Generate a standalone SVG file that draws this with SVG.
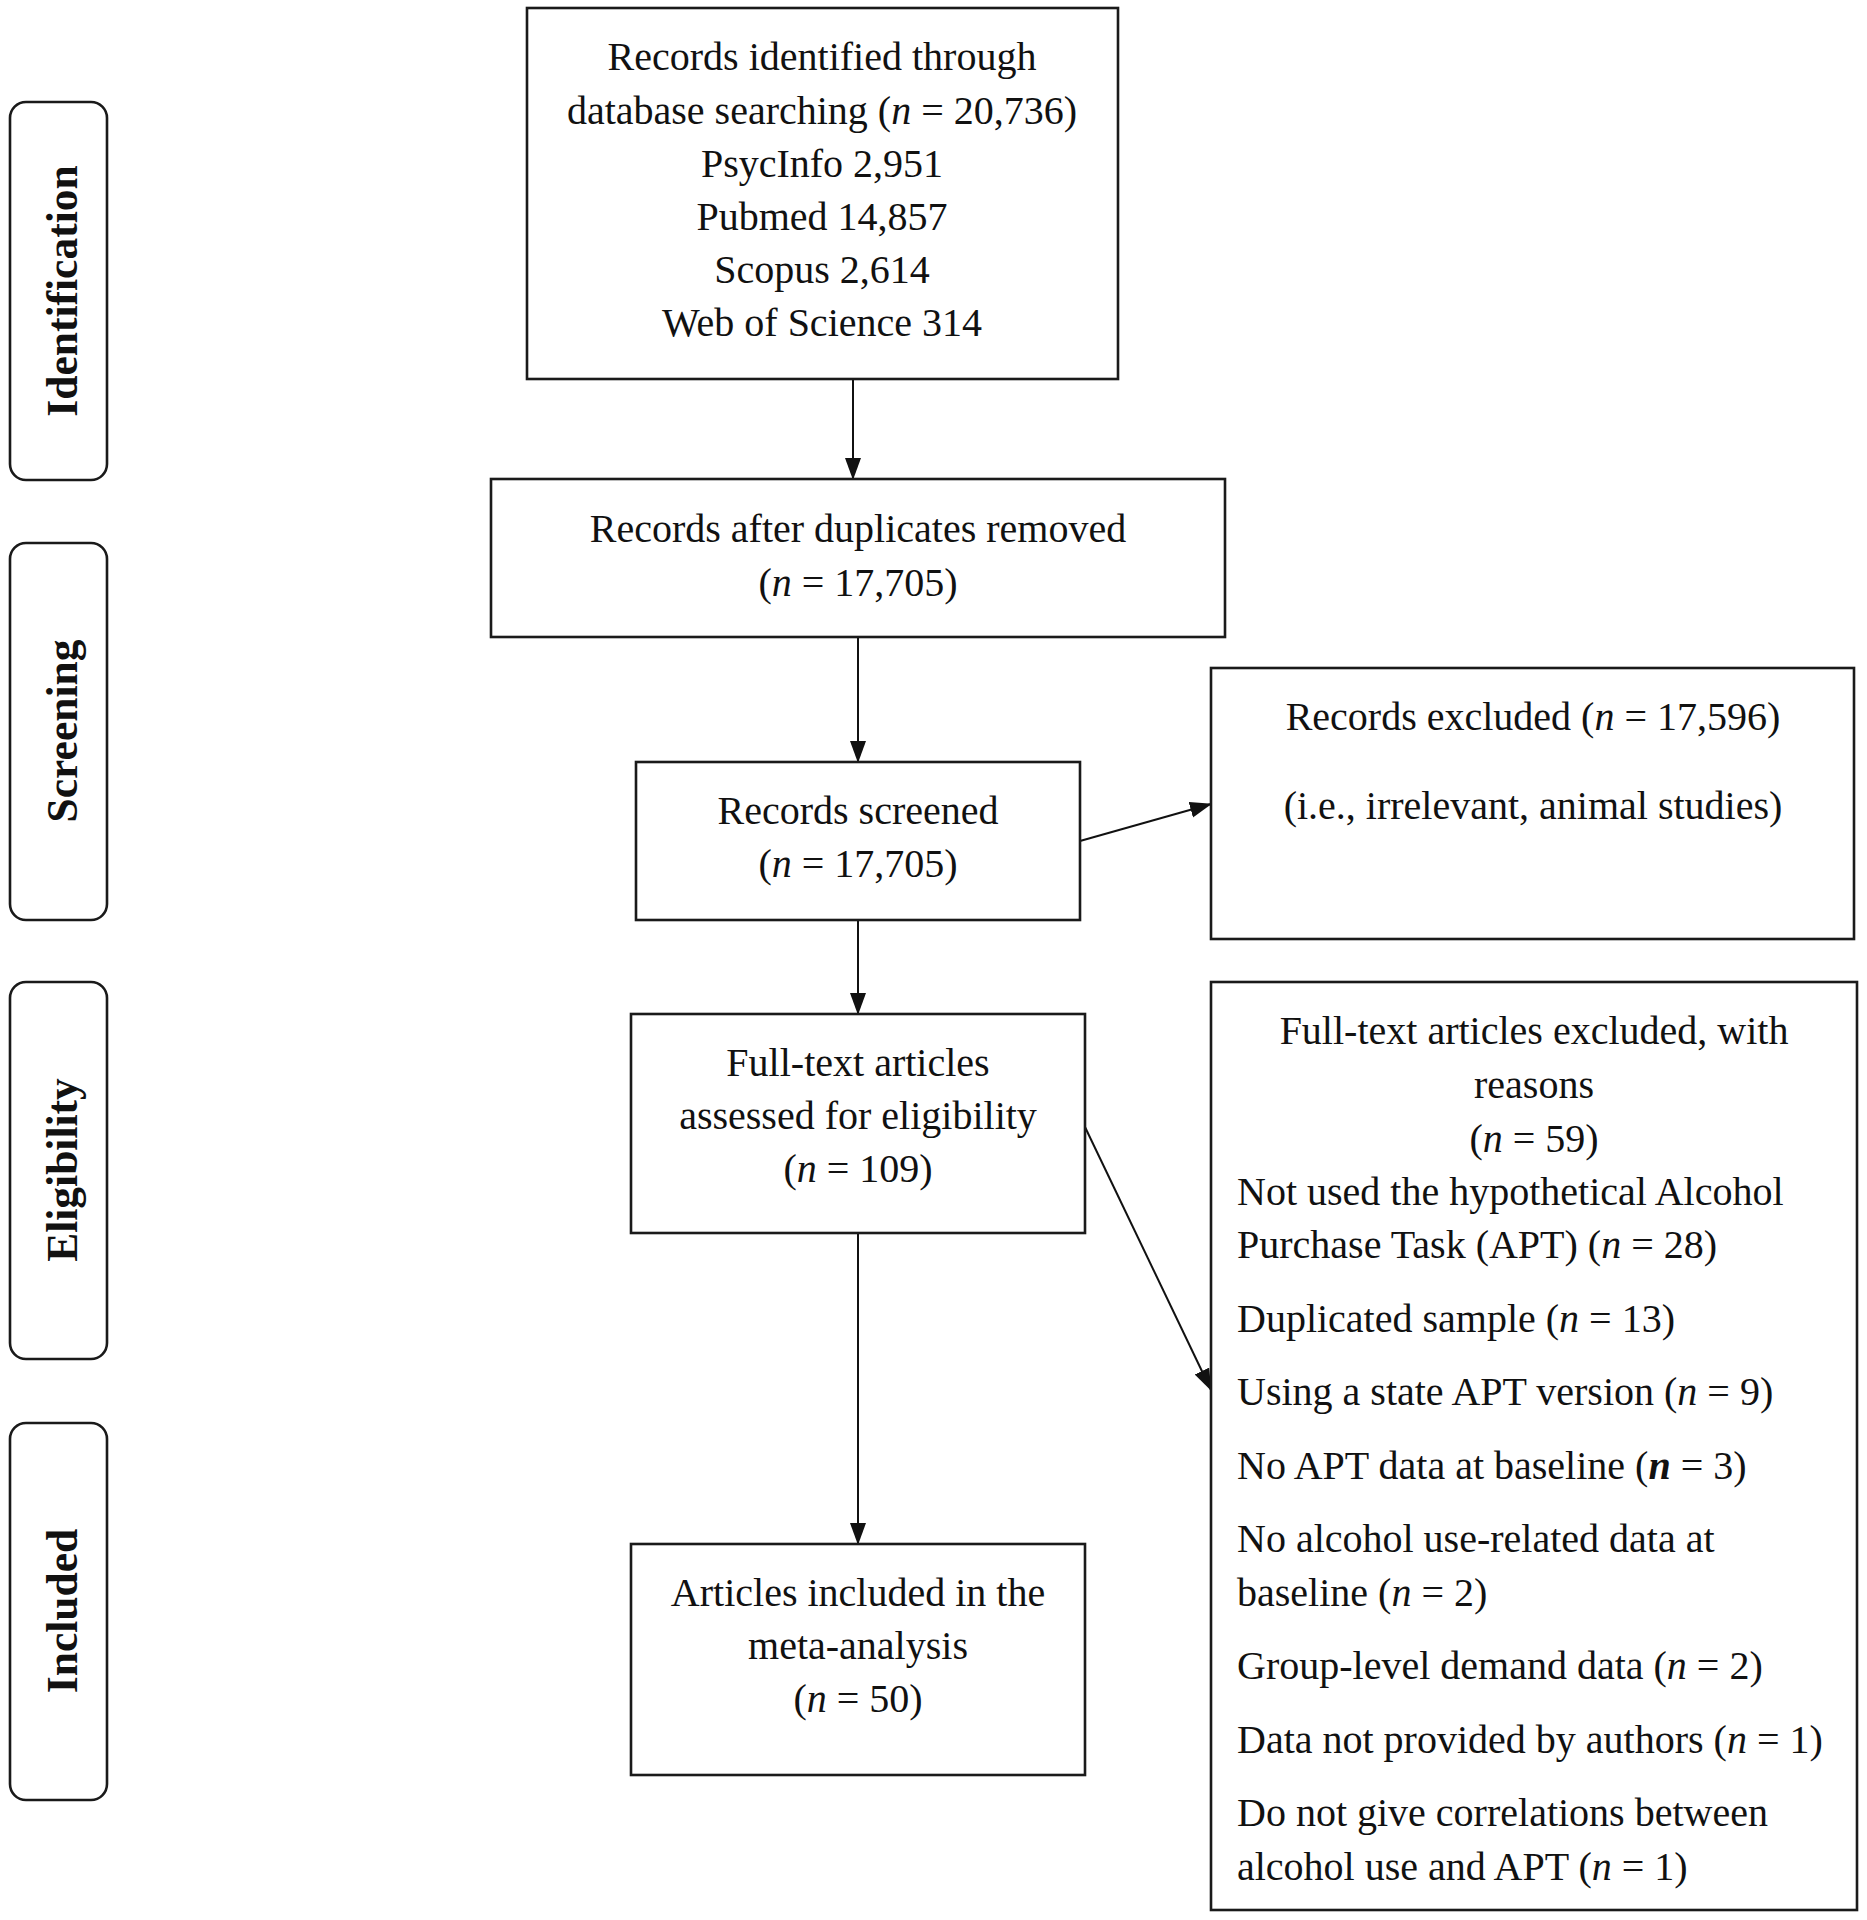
<svg xmlns="http://www.w3.org/2000/svg" width="1867" height="1920" viewBox="0 0 1867 1920">
<defs>
<style>
.box{fill:#fff;stroke:#1a1a1a;stroke-width:2.6}
.side{fill:#fff;stroke:#1a1a1a;stroke-width:2.6}
.t{font-family:"Liberation Serif","Times New Roman",serif;font-size:40px;fill:#111}
.c{text-anchor:middle}
.lbl{font-family:"Liberation Serif","Times New Roman",serif;font-size:43.5px;font-weight:bold;fill:#111;text-anchor:middle}
.i{font-style:italic}
.bi{font-style:italic;font-weight:bold}
.conn{stroke:#111;stroke-width:2;fill:none;marker-end:url(#ah)}
</style>
<marker id="ah" markerUnits="userSpaceOnUse" markerWidth="22" markerHeight="18" refX="21" refY="8" orient="auto">
<path d="M0,0 L22,8 L0,16 z" fill="#111"/>
</marker>
</defs>
<rect width="1867" height="1920" fill="#fff"/>

<g id="stage-identification">
<rect class="side" x="10" y="102" width="97" height="378" rx="16"/>
<text class="lbl" transform="translate(77,291) rotate(-90)">Identification</text>
</g>
<g id="stage-screening">
<rect class="side" x="10" y="543" width="97" height="377" rx="16"/>
<text class="lbl" transform="translate(77,731) rotate(-90)">Screening</text>
</g>
<g id="stage-eligibility">
<rect class="side" x="10" y="982" width="97" height="377" rx="16"/>
<text class="lbl" transform="translate(77,1170) rotate(-90)">Eligibility</text>
</g>
<g id="stage-included">
<rect class="side" x="10" y="1423" width="97" height="377" rx="16"/>
<text class="lbl" transform="translate(77,1611) rotate(-90)">Included</text>
</g>

<g id="connectors">
<line class="conn" x1="853" y1="379" x2="853" y2="479"/>
<line class="conn" x1="858" y1="637" x2="858" y2="762"/>
<line class="conn" x1="858" y1="920" x2="858" y2="1014"/>
<line class="conn" x1="858" y1="1233" x2="858" y2="1544"/>
<line class="conn" x1="1080" y1="841" x2="1211" y2="804"/>
<line class="conn" x1="1085" y1="1127" x2="1211" y2="1390"/>
</g>

<g id="node-identified">
<rect class="box" x="527" y="8" width="591" height="371"/>
<text class="t c" x="822" y="70">Records identified through</text>
<text class="t c" x="822" y="123.5">database searching (<tspan class="i">n</tspan> = 20,736)</text>
<text class="t c" x="822" y="176.5">PsycInfo 2,951</text>
<text class="t c" x="822" y="230">Pubmed 14,857</text>
<text class="t c" x="822" y="283">Scopus 2,614</text>
<text class="t c" x="822" y="336">Web of Science 314</text>
</g>

<g id="node-dedup">
<rect class="box" x="491" y="479" width="734" height="158"/>
<text class="t c" x="858" y="542">Records after duplicates removed</text>
<text class="t c" x="858" y="596">(<tspan class="i">n</tspan> = 17,705)</text>
</g>

<g id="node-screened">
<rect class="box" x="636" y="762" width="444" height="158"/>
<text class="t c" x="858" y="824">Records screened</text>
<text class="t c" x="858" y="877">(<tspan class="i">n</tspan> = 17,705)</text>
</g>

<g id="node-records-excluded">
<rect class="box" x="1211" y="668" width="643" height="271"/>
<text class="t c" x="1533" y="730">Records excluded (<tspan class="i">n</tspan> = 17,596)</text>
<text class="t c" x="1533" y="819">(i.e., irrelevant, animal studies)</text>
</g>

<g id="node-fulltext">
<rect class="box" x="631" y="1014" width="454" height="219"/>
<text class="t c" x="858" y="1076">Full-text articles</text>
<text class="t c" x="858" y="1129">assessed for eligibility</text>
<text class="t c" x="858" y="1182">(<tspan class="i">n</tspan> = 109)</text>
</g>

<g id="node-fulltext-excluded">
<rect class="box" x="1211" y="982" width="646" height="928"/>
<text class="t c" x="1534" y="1044">Full-text articles excluded, with</text>
<text class="t c" x="1534" y="1098">reasons</text>
<text class="t c" x="1534" y="1152">(<tspan class="i">n</tspan> = 59)</text>
<text class="t" x="1237" y="1205">Not used the hypothetical Alcohol</text>
<text class="t" x="1237" y="1258">Purchase Task (APT) (<tspan class="i">n</tspan> = 28)</text>
<text class="t" x="1237" y="1332">Duplicated sample (<tspan class="i">n</tspan> = 13)</text>
<text class="t" x="1237" y="1405">Using a state APT version (<tspan class="i">n</tspan> = 9)</text>
<text class="t" x="1237" y="1479">No APT data at baseline (<tspan class="bi">n</tspan> = 3)</text>
<text class="t" x="1237" y="1552">No alcohol use-related data at</text>
<text class="t" x="1237" y="1606">baseline (<tspan class="i">n</tspan> = 2)</text>
<text class="t" x="1237" y="1679">Group-level demand data (<tspan class="i">n</tspan> = 2)</text>
<text class="t" x="1237" y="1753">Data not provided by authors (<tspan class="i">n</tspan> = 1)</text>
<text class="t" x="1237" y="1826">Do not give correlations between</text>
<text class="t" x="1237" y="1880">alcohol use and APT (<tspan class="i">n</tspan> = 1)</text>
</g>

<g id="node-included">
<rect class="box" x="631" y="1544" width="454" height="231"/>
<text class="t c" x="858" y="1606">Articles included in the</text>
<text class="t c" x="858" y="1659">meta-analysis</text>
<text class="t c" x="858" y="1712">(<tspan class="i">n</tspan> = 50)</text>
</g>
</svg>
